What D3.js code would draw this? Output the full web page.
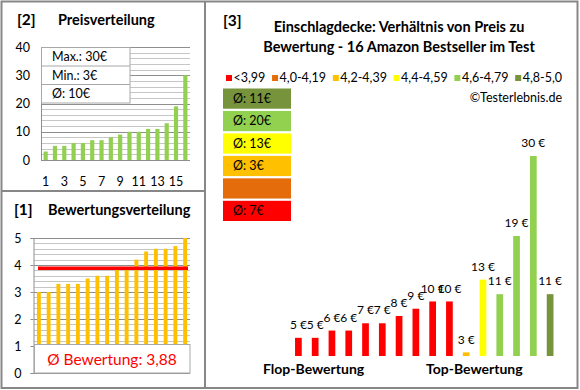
<!DOCTYPE html>
<html><head><meta charset="utf-8">
<script src="https://cdn.jsdelivr.net/npm/d3@7"></script>
<style>
body{margin:0;background:#fff;}
svg{display:block;font-family:Lato,"Open Sans",sans-serif;}
</style></head><body>
<svg id="c" width="580" height="390"></svg>
<script>
// ---------- data ----------
const ratings = [3.0,3.0,3.3,3.3,3.3,3.5,3.6,3.6,3.9,3.9,4.2,4.5,4.6,4.6,4.7,5.0];
const prices  = [5,5,6,6,7,7,8,9,10,10,3,13,11,19,30,11];
const avgRating = 3.88;
const classLabels = ["<3,99","4,0-4,19","4,2-4,39","4,4-4,59","4,6-4,79","4,8-5,0"];
const classLower  = [0,4.0,4.2,4.4,4.6,4.8];
const classColors = ["#FF0000","#E46C0A","#FFC000","#FFFF00","#92D050","#77933C"];
const priceTicks = [0,10,20,30,40];
const priceCatTicks = [1,3,5,7,9,11,13,15];
const ratingTicks = [0,1,2,3,4,5];
const titleLines = ["Einschlagdecke: Verhältnis von Preis zu","Bewertung - 16 Amazon Bestseller im Test"];

// ---------- helpers ----------
const svg = d3.select("#c");
const gridMinor = "#c6c6c6", gridMajor = "#8e8e8e", frameCol = "#878787";
const crisp = v => Math.round(v) + 0.5;
const classOf = r => { let k = 0; classLower.forEach((l,i)=>{ if (r >= l - 1e-9) k = i; }); return k; };

// ---------- frame ----------
svg.append("rect").attr("x",1.5).attr("y",1.5).attr("width",576).attr("height",386.5)
  .attr("fill","none").attr("stroke",frameCol).attr("stroke-width",2);
svg.append("line").attr("x1",205).attr("x2",205).attr("y1",1).attr("y2",388).attr("stroke",frameCol).attr("stroke-width",2);
svg.append("line").attr("x1",1).attr("x2",205).attr("y1",191).attr("y2",191).attr("stroke",frameCol).attr("stroke-width",2);

// ---------- [2] Preisverteilung ----------
const sortedPrices = prices.slice().sort(d3.ascending);
const yP = d3.scaleLinear().domain([0,40]).range([160,47]);
const xP = d3.scaleBand().domain(d3.range(1,17)).range([41,190]);
const gP = svg.append("g");
gP.append("text").attr("x",17).attr("y",20).attr("dy","0.35em").attr("font-size",15.5).attr("font-weight","bold").text("[2]");
gP.append("text").attr("x",58).attr("y",20).attr("dy","0.35em").attr("font-size",14.5).attr("font-weight","bold").text("Preisverteilung");
gP.selectAll("line.grid").data(d3.range(0,41,2)).join("line")
  .attr("x1",41).attr("x2",190).attr("y1",d=>crisp(yP(d))).attr("y2",d=>crisp(yP(d)))
  .attr("stroke",d=>d%10===0?gridMajor:gridMinor);
gP.append("line").attr("x1",41.5).attr("x2",41.5).attr("y1",yP(40)).attr("y2",yP(0)).attr("stroke",gridMajor);
const axP = gP.append("g").attr("transform","translate(41,0)")
  .call(d3.axisLeft(yP).tickValues(priceTicks).tickFormat(d3.format("d")).tickSize(0).tickPadding(11));
axP.select(".domain").remove();
axP.selectAll("text").attr("font-size",12.5).attr("fill","#000").attr("font-family","Lato,sans-serif");
const axPx = gP.append("g").attr("transform","translate(0,160)")
  .call(d3.axisBottom(xP).tickValues(priceCatTicks).tickSize(0).tickPadding(17));
axPx.select(".domain").remove();
axPx.selectAll("text").attr("font-size",12.5).attr("fill","#000").attr("font-family","Lato,sans-serif");
const pbw = xP.bandwidth()*0.45;
gP.selectAll("rect.bar").data(sortedPrices).join("rect")
  .attr("x",(d,i)=>xP(i+1)+(xP.bandwidth()-pbw)/2).attr("width",pbw)
  .attr("y",d=>yP(d)).attr("height",d=>yP(0)-yP(d)).attr("fill","#92D050");
// stats box
const stats = [`Max.: ${d3.max(prices)}€`,`Min.: ${d3.min(prices)}€`,`Ø: ${Math.round(d3.mean(prices))}€`];
const boxTop = crisp(yP(40)), rowH = 18.5;
const sb = gP.append("g");
sb.append("rect").attr("x",41.5).attr("y",boxTop).attr("width",88.5).attr("height",rowH*3).attr("fill","#fff").attr("stroke","#a8a8a8");
stats.forEach((s,i)=>{
  if (i>0) sb.append("line").attr("x1",41.5).attr("x2",130).attr("y1",boxTop+rowH*i).attr("y2",boxTop+rowH*i).attr("stroke","#a8a8a8");
  sb.append("text").attr("x",52).attr("y",boxTop+rowH*i+rowH/2).attr("dy","0.35em").attr("font-size",12.5).text(s);
});

// ---------- [1] Bewertungsverteilung ----------
const yR = d3.scaleLinear().domain([0,5]).range([373,238]);
const xR = d3.scaleBand().domain(d3.range(16)).range([34,190]);
const gR = svg.append("g");
gR.append("text").attr("x",14).attr("y",210).attr("dy","0.35em").attr("font-size",15.5).attr("font-weight","bold").text("[1]");
gR.append("text").attr("x",48).attr("y",210).attr("dy","0.35em").attr("font-size",14.5).attr("font-weight","bold").text("Bewertungsverteilung");
gR.selectAll("line.grid").data(d3.range(0,26)).join("line")
  .attr("x1",34).attr("x2",190).attr("y1",d=>crisp(yR(d/5))).attr("y2",d=>crisp(yR(d/5)))
  .attr("stroke",d=>d%5===0?gridMajor:gridMinor);
const axR = gR.append("g").attr("transform","translate(33.5,0)")
  .call(d3.axisLeft(yR).tickValues(ratingTicks).tickFormat(d3.format("d")).tickSize(3).tickPadding(9));
axR.select(".domain").attr("stroke",gridMajor);
axR.selectAll(".tick line").attr("stroke",gridMajor);
axR.selectAll("text").attr("font-size",12.5).attr("fill","#000").attr("font-family","Lato,sans-serif");
const rbw = xR.bandwidth()*0.4;
gR.selectAll("rect.bar").data(ratings).join("rect")
  .attr("x",(d,i)=>xR(i)+(xR.bandwidth()-rbw)/2).attr("width",rbw)
  .attr("y",d=>yR(d)).attr("height",d=>yR(0)-yR(d)).attr("fill","#FFC000");
gR.append("line").attr("x1",38).attr("x2",188).attr("y1",yR(avgRating)).attr("y2",yR(avgRating))
  .attr("stroke","#FF0000").attr("stroke-width",3.5);
gR.append("rect").attr("x",34.5).attr("y",344.5).attr("width",155.5).attr("height",28.5).attr("fill","#fff").attr("stroke","#a8a8a8");
gR.append("text").attr("x",112).attr("y",360).attr("dy","0.35em").attr("text-anchor","middle")
  .attr("font-size",15.5).attr("fill","#FF0000").text("Ø Bewertung: " + d3.format(".2f")(avgRating).replace(".",","));

// ---------- [3] Verhältnis ----------
const g3 = svg.append("g");
g3.append("text").attr("x",223).attr("y",21).attr("dy","0.35em").attr("font-size",15.5).attr("font-weight","bold").text("[3]");
titleLines.forEach((t,i)=>g3.append("text").attr("x",399).attr("y",27+i*20).attr("dy","0.35em")
  .attr("text-anchor","middle").attr("font-size",14.5).attr("font-weight","bold").text(t));
// legend
const legItems = classLabels.map((l,i)=>({l,c:classColors[i]}));
const lg = g3.append("g");
const lgTexts = legItems.map(d=>{
  const t = lg.append("text").attr("y",78).attr("dy","0.35em").attr("font-size",12.5).text(d.l);
  return {t, w:t.node().getComputedTextLength(), c:d.c};
});
const lgStart = 226, lgEnd = 562, sq = 6, sqGap = 1.5;
const usedW = d3.sum(lgTexts, d=>sq+sqGap+d.w);
const gapW = (lgEnd-lgStart-usedW)/(lgTexts.length-1);
let lx = lgStart;
lgTexts.forEach(d=>{
  lg.append("rect").attr("x",lx).attr("y",75).attr("width",sq).attr("height",sq).attr("fill",d.c);
  d.t.attr("x",lx+sq+sqGap);
  lx += sq+sqGap+d.w+gapW;
});
g3.append("text").attr("x",562).attr("y",98).attr("dy","0.35em").attr("text-anchor","end").attr("font-size",12.5).text("©Testerlebnis.de");
// class average boxes
const cls = ratings.map(classOf);
const classIdx = d3.range(classLabels.length);
const yB = d3.scaleBand().domain(classIdx.slice().reverse()).range([88.5,221]).paddingInner(0.1);
classIdx.forEach(k=>{
  const ps = prices.filter((p,i)=>cls[i]===k);
  g3.append("rect").attr("x",223).attr("y",yB(k)).attr("width",68).attr("height",yB.bandwidth()).attr("fill",classColors[k]);
  if (ps.length) g3.append("text").attr("x",233).attr("y",yB(k)+yB.bandwidth()/2).attr("dy","0.35em")
    .attr("font-size",12.5).text(`Ø: ${Math.round(d3.mean(ps))}€`);
});
// bars
const yV = d3.scaleLinear().domain([2.5,30]).range([356,156]);
const xV = d3.scaleBand().domain(d3.range(prices.length)).range([290,558.5]);
const vbw = xV.bandwidth()*0.4;
g3.selectAll("rect.vbar").data(prices).join("rect")
  .attr("x",(d,i)=>xV(i)+(xV.bandwidth()-vbw)/2).attr("width",vbw)
  .attr("y",d=>yV(d)).attr("height",d=>yV(2.5)-yV(d)).attr("fill",(d,i)=>classColors[cls[i]]);
g3.selectAll("text.vlab").data(prices).join("text")
  .attr("x",(d,i)=>xV(i)+xV.bandwidth()/2).attr("y",d=>yV(d)-13).attr("dy","0.35em")
  .attr("text-anchor","middle").attr("font-size",12).text(d=>`${d} €`);
g3.append("text").attr("x",263).attr("y",369).attr("dy","0.35em").attr("font-size",14).attr("font-weight","bold").text("Flop-Bewertung");
g3.append("text").attr("x",426).attr("y",369).attr("dy","0.35em").attr("font-size",14).attr("font-weight","bold").text("Top-Bewertung");
</script>
</body></html>
